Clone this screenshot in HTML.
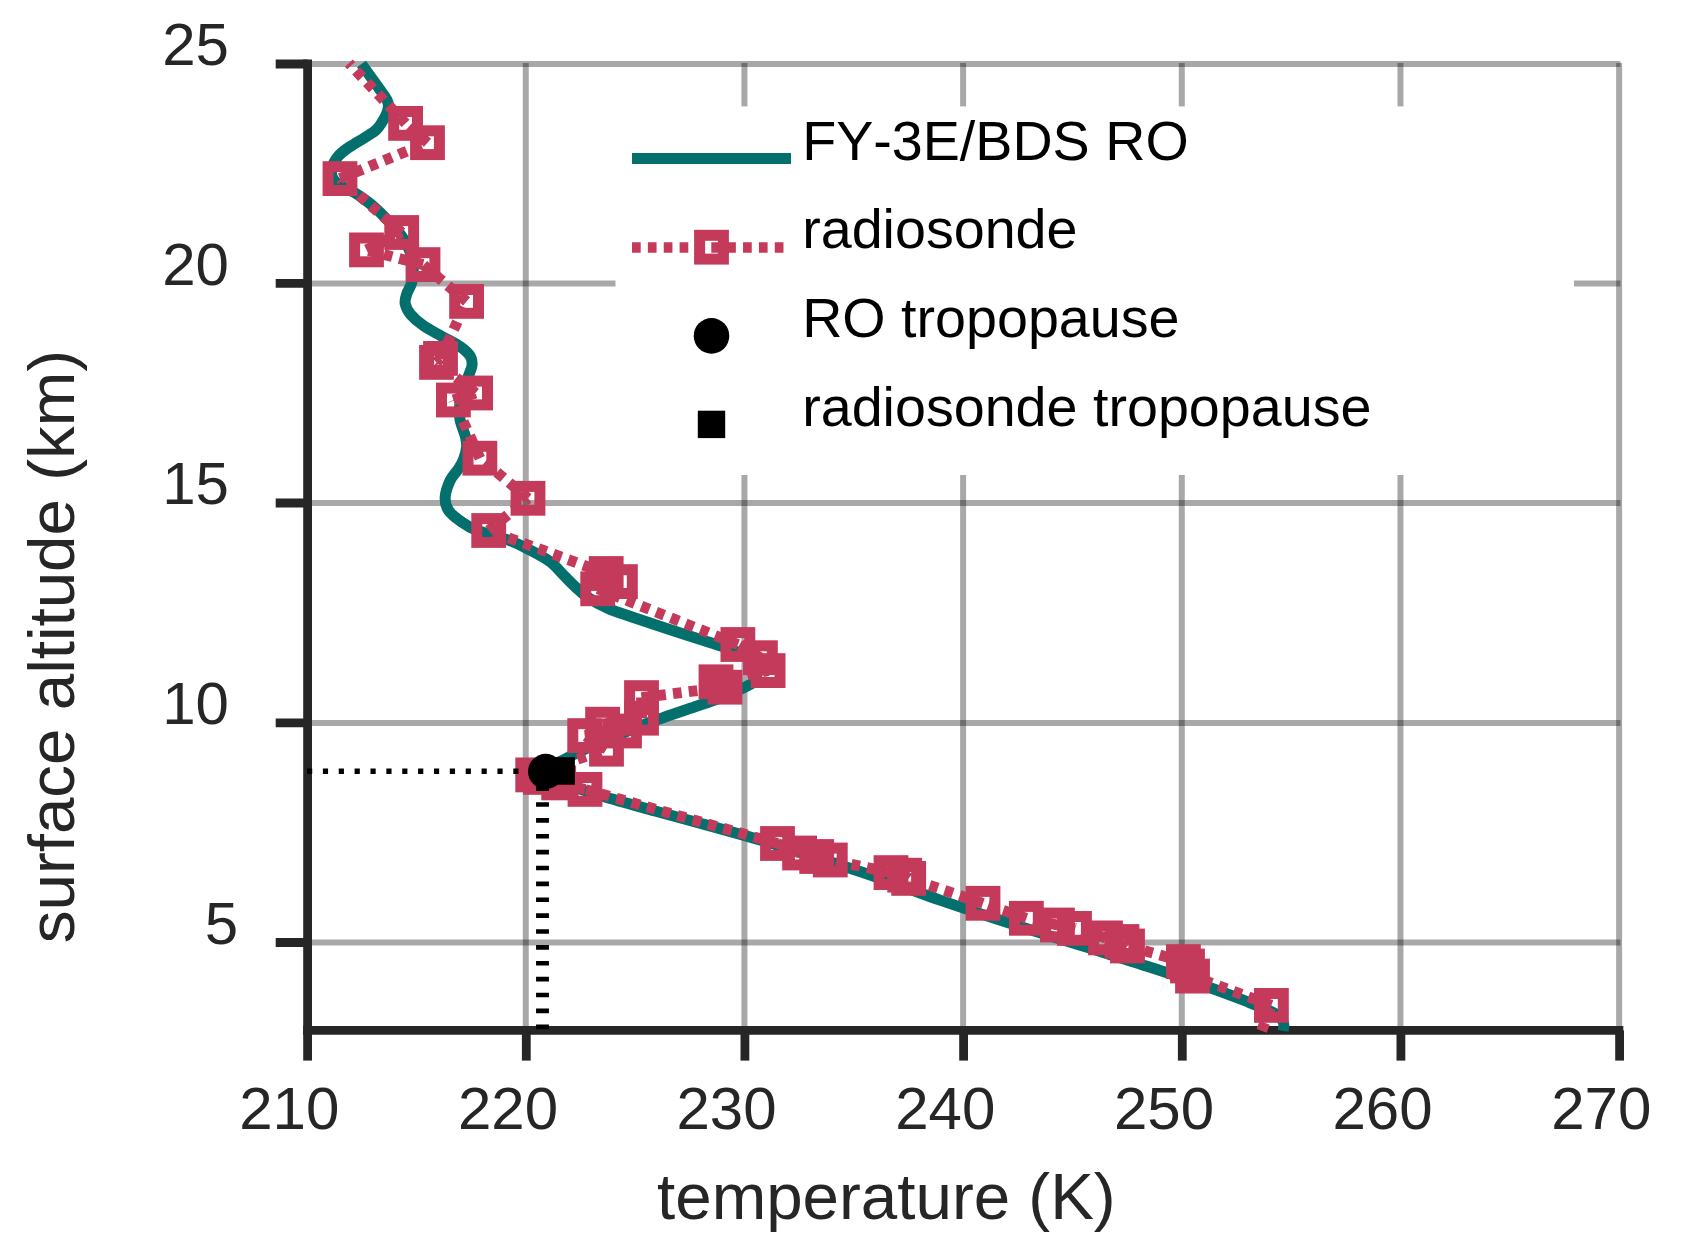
<!DOCTYPE html>
<html lang="en"><head><meta charset="utf-8"><title>temperature profile</title>
<style>html,body{margin:0;padding:0;background:#fff}svg{display:block}text{font-family:"Liberation Sans",Arial,Helvetica,sans-serif;font-kerning:none}.tk{font-size:60px;fill:#262626}.al{font-size:65.5px;fill:#262626}.lg{font-size:55.65px;fill:#000}</style></head><body>
<svg width="1681" height="1257" viewBox="0 0 1681 1257">
<rect width="1681" height="1257" fill="#fff"/>
<g stroke="#000" stroke-opacity="0.34" stroke-width="6" fill="none"><line x1="525.77" y1="63.1" x2="525.77" y2="1030.4"/><line x1="744.44" y1="63.1" x2="744.44" y2="1030.4"/><line x1="963.11" y1="63.1" x2="963.11" y2="1030.4"/><line x1="1181.78" y1="63.1" x2="1181.78" y2="1030.4"/><line x1="1400.45" y1="63.1" x2="1400.45" y2="1030.4"/><line x1="1619.12" y1="63.1" x2="1619.12" y2="1030.4"/><line x1="307.6" y1="64.0" x2="1620.4" y2="64.0"/><line x1="307.6" y1="283.4" x2="1620.4" y2="283.4"/><line x1="307.6" y1="503.0" x2="1620.4" y2="503.0"/><line x1="307.6" y1="722.9" x2="1620.4" y2="722.9"/><line x1="307.6" y1="942.5" x2="1620.4" y2="942.5"/></g>
<rect x="615.5" y="106.4" width="958.5" height="368.6" fill="#fff"/>
<g stroke="#262626" stroke-width="8.8" fill="none"><line x1="307.6" y1="59.6" x2="307.6" y2="1034.8"/><line x1="303.2" y1="1030.4" x2="1623.3" y2="1030.4"/><line x1="275.7" y1="64.0" x2="307.6" y2="64.0"/><line x1="275.7" y1="283.4" x2="307.6" y2="283.4"/><line x1="275.7" y1="503.0" x2="307.6" y2="503.0"/><line x1="275.7" y1="722.9" x2="307.6" y2="722.9"/><line x1="275.7" y1="942.5" x2="307.6" y2="942.5"/><line x1="307.6" y1="1030.4" x2="307.6" y2="1060.6"/><line x1="526.3" y1="1030.4" x2="526.3" y2="1060.6"/><line x1="744.9" y1="1030.4" x2="744.9" y2="1060.6"/><line x1="963.6" y1="1030.4" x2="963.6" y2="1060.6"/><line x1="1182.3" y1="1030.4" x2="1182.3" y2="1060.6"/><line x1="1400.9" y1="1030.4" x2="1400.9" y2="1060.6"/><line x1="1619.6" y1="1030.4" x2="1619.6" y2="1060.6"/></g>
<g>
<path d="M361.5 64.0C363.0 66.1 367.5 72.3 370.5 76.5C373.5 80.7 376.8 85.1 379.5 89.0C382.2 92.9 385.5 96.9 387.0 100.0C388.5 103.1 388.6 104.8 388.3 107.5C388.1 110.2 387.4 112.4 385.5 116.0C383.6 119.6 380.4 125.4 377.0 129.0C373.6 132.6 368.9 134.9 365.0 137.5C361.1 140.1 356.9 142.3 353.7 144.3C350.5 146.3 348.3 147.6 345.8 149.5C343.3 151.4 340.5 153.7 338.6 155.8C336.7 157.9 335.4 160.0 334.2 162.0C333.0 164.0 332.0 166.2 331.5 168.0C331.0 169.8 331.1 171.2 331.3 173.0C331.6 174.8 332.0 176.8 333.0 178.5C334.0 180.2 335.5 181.9 337.5 183.5C339.5 185.1 342.1 186.5 345.0 188.0C347.9 189.5 351.1 190.5 354.6 192.6C358.1 194.7 362.3 197.7 366.0 200.5C369.7 203.3 373.7 206.5 377.0 209.5C380.3 212.5 382.5 214.9 386.0 218.5C389.5 222.1 394.3 226.2 398.0 231.0C401.7 235.8 405.5 241.5 408.0 247.0C410.5 252.5 412.4 258.2 413.0 264.0C413.6 269.8 412.9 277.0 411.9 281.9C410.9 286.8 408.0 290.0 406.9 293.6C405.8 297.2 404.5 300.1 405.2 303.6C405.9 307.1 407.7 310.9 410.8 314.6C413.9 318.3 418.4 322.2 423.6 325.8C428.8 329.4 435.9 332.9 442.0 336.4C448.1 339.9 455.7 343.5 460.4 346.8C465.1 350.1 468.5 353.3 470.4 356.4C472.3 359.5 472.3 362.2 472.0 365.4C471.7 368.6 470.1 371.3 468.7 375.4C467.3 379.5 465.0 385.1 463.5 390.0C462.0 394.9 460.4 400.1 459.8 405.0C459.2 409.9 459.0 414.1 460.0 419.5C461.0 424.9 464.5 432.6 465.6 437.2C466.7 441.8 466.9 443.5 466.6 447.0C466.3 450.5 465.3 454.4 464.0 458.0C462.7 461.6 460.9 465.0 458.6 468.7C456.3 472.4 452.4 475.7 450.2 480.4C448.0 485.1 445.5 492.0 445.2 497.0C444.9 502.0 445.7 506.2 448.5 510.4C451.3 514.6 457.1 518.8 461.9 522.1C466.6 525.5 469.2 527.5 477.0 530.5C484.8 533.5 499.6 536.8 508.5 540.1C517.4 543.4 523.2 546.6 530.2 550.2C537.2 553.8 544.7 557.7 550.3 561.9C555.9 566.1 559.4 571.0 563.6 575.2C567.8 579.4 571.4 583.3 575.3 586.9C579.2 590.5 581.7 593.4 587.0 596.9C592.3 600.4 599.9 604.7 607.1 608.0C614.4 611.3 620.9 613.2 630.5 616.5C640.1 619.8 651.8 623.7 665.0 628.0C678.2 632.3 698.3 638.7 710.0 642.5C721.7 646.3 728.0 648.1 735.0 651.0C742.0 653.9 748.2 657.0 752.0 660.0C755.8 663.0 757.5 665.8 758.0 669.0C758.5 672.2 756.5 676.3 755.0 679.0C753.5 681.7 754.5 682.1 748.7 685.3C742.9 688.5 729.0 694.5 720.4 698.0C711.8 701.5 709.4 701.8 697.2 706.0C685.0 710.2 663.2 717.4 647.0 723.5C630.8 729.6 613.7 736.6 600.0 742.5C586.3 748.4 574.0 754.2 565.0 759.0C556.0 763.8 546.5 767.6 546.0 771.5C545.5 775.4 552.4 778.3 562.0 782.5C571.6 786.7 588.1 791.8 603.6 796.5C619.1 801.2 638.9 806.5 655.0 811.0C671.1 815.5 682.5 818.4 700.0 823.2C717.5 828.0 741.7 834.6 760.0 840.0C778.3 845.4 793.8 850.4 810.0 855.5C826.2 860.6 842.0 865.5 857.0 870.5C872.0 875.5 886.2 880.6 900.0 885.5C913.8 890.4 922.5 894.1 940.0 900.1C957.5 906.1 981.5 914.2 1005.2 921.8C1028.9 929.4 1056.7 937.8 1082.0 945.8C1107.3 953.8 1134.2 961.9 1157.2 969.5C1180.2 977.1 1204.5 985.7 1220.0 991.2C1235.5 996.8 1241.2 999.3 1250.0 1002.8C1258.8 1006.3 1267.5 1009.8 1272.5 1012.2C1277.5 1014.6 1278.2 1015.3 1280.0 1017.0C1281.8 1018.7 1282.8 1020.8 1283.4 1022.5C1284.0 1024.2 1283.8 1025.6 1283.8 1027.0C1283.8 1028.4 1283.2 1030.2 1283.1 1030.9" fill="none" stroke="#03706d" stroke-width="11.0" stroke-linejoin="round"/>
<path d="M1261.6 1030.9L1271.4 1005.4M1271.4 1005.4L1192.5 976.1M1192.5 976.1L1187.5 966.0M1187.5 966.0L1183.4 961.6M1183.4 961.6L1127.5 946.0M1127.5 946.0L1122.0 941.5M1122.0 941.5L1105.5 937.9M1105.5 937.9L1074.5 928.4M1074.5 928.4L1057.4 925.0M1057.4 925.0L1026.4 918.3M1026.4 918.3L983.0 903.3M983.0 903.3L908.7 878.4M908.7 878.4L904.7 875.2M904.7 875.2L891.0 872.6M891.0 872.6L830.3 860.0M830.3 860.0L816.7 856.5M816.7 856.5L799.6 853.0M799.6 853.0L777.5 843.5M777.5 843.5L585.0 789.4M585.0 789.4L558.7 782.9M558.7 782.9L540.4 777.4M540.4 777.4L532.7 774.9M532.7 774.9L606.5 749.2M606.5 749.2L584.7 735.6M584.7 735.6L624.5 731.0M624.5 731.0L602.6 724.2M602.6 724.2L641.5 718.2M641.5 718.2L641.5 697.6M641.5 697.6L725.0 687.2M725.0 687.2L716.0 681.8M716.0 681.8L768.1 670.6M768.1 670.6L760.4 657.7M760.4 657.7L737.9 644.5M737.9 644.5L597.7 588.8M597.7 588.8L620.4 581.6M620.4 581.6L606.2 573.5M606.2 573.5L488.7 530.5M488.7 530.5L528.0 498.3M528.0 498.3L479.9 458.2M479.9 458.2L453.4 400.0M453.4 400.0L475.6 393.0M475.6 393.0L436.5 362.4M436.5 362.4L440.5 358.4M440.5 358.4L466.6 301.4M466.6 301.4L423.0 264.6M423.0 264.6L366.5 249.9M366.5 249.9L401.7 232.5M401.7 232.5L340.0 178.6M340.0 178.6L427.5 142.7M427.5 142.7L405.6 123.4M405.6 123.4L348.8 63.1" fill="none" stroke="#c43a5a" stroke-width="10.8" stroke-dasharray="8.7 7.17"/>
<g fill="none" stroke="#c43a5a" stroke-width="11.0"><rect x="393.7" y="111.5" width="23.8" height="23.8"/><rect x="415.6" y="130.8" width="23.8" height="23.8"/><rect x="328.1" y="166.7" width="23.8" height="23.8"/><rect x="389.8" y="220.6" width="23.8" height="23.8"/><rect x="354.6" y="238.0" width="23.8" height="23.8"/><rect x="411.1" y="252.7" width="23.8" height="23.8"/><rect x="454.7" y="289.5" width="23.8" height="23.8"/><rect x="428.6" y="346.5" width="23.8" height="23.8"/><rect x="424.6" y="350.5" width="23.8" height="23.8"/><rect x="463.7" y="381.1" width="23.8" height="23.8"/><rect x="441.5" y="388.1" width="23.8" height="23.8"/><rect x="468.0" y="446.3" width="23.8" height="23.8"/><rect x="516.1" y="486.4" width="23.8" height="23.8"/><rect x="476.8" y="518.6" width="23.8" height="23.8"/><rect x="594.3" y="561.6" width="23.8" height="23.8"/><rect x="608.5" y="569.7" width="23.8" height="23.8"/><rect x="585.8" y="576.9" width="23.8" height="23.8"/><rect x="726.0" y="632.6" width="23.8" height="23.8"/><rect x="748.5" y="645.8" width="23.8" height="23.8"/><rect x="756.2" y="658.7" width="23.8" height="23.8"/><rect x="704.1" y="669.9" width="23.8" height="23.8"/><rect x="713.1" y="675.3" width="23.8" height="23.8"/><rect x="629.6" y="685.7" width="23.8" height="23.8"/><rect x="629.6" y="706.3" width="23.8" height="23.8"/><rect x="590.7" y="712.3" width="23.8" height="23.8"/><rect x="612.6" y="719.1" width="23.8" height="23.8"/><rect x="572.8" y="723.7" width="23.8" height="23.8"/><rect x="594.6" y="737.3" width="23.8" height="23.8"/><rect x="520.8" y="763.0" width="23.8" height="23.8"/><rect x="528.5" y="765.5" width="23.8" height="23.8"/><rect x="546.8" y="771.0" width="23.8" height="23.8"/><rect x="573.1" y="777.5" width="23.8" height="23.8"/><rect x="765.6" y="831.6" width="23.8" height="23.8"/><rect x="787.7" y="841.1" width="23.8" height="23.8"/><rect x="804.8" y="844.6" width="23.8" height="23.8"/><rect x="818.4" y="848.1" width="23.8" height="23.8"/><rect x="879.1" y="860.7" width="23.8" height="23.8"/><rect x="892.8" y="863.3" width="23.8" height="23.8"/><rect x="896.8" y="866.5" width="23.8" height="23.8"/><rect x="971.1" y="891.4" width="23.8" height="23.8"/><rect x="1014.5" y="906.4" width="23.8" height="23.8"/><rect x="1045.5" y="913.1" width="23.8" height="23.8"/><rect x="1062.6" y="916.5" width="23.8" height="23.8"/><rect x="1093.6" y="926.0" width="23.8" height="23.8"/><rect x="1110.1" y="929.6" width="23.8" height="23.8"/><rect x="1115.6" y="934.1" width="23.8" height="23.8"/><rect x="1171.5" y="949.7" width="23.8" height="23.8"/><rect x="1175.6" y="954.1" width="23.8" height="23.8"/><rect x="1180.6" y="964.2" width="23.8" height="23.8"/><rect x="1259.5" y="993.5" width="23.8" height="23.8"/></g>
<rect x="551.5" y="775.7" width="14.4" height="14.4" fill="#c43a5a"/>
</g>
<line x1="307" y1="771.2" x2="546" y2="771.2" stroke="#000" stroke-width="5.6" stroke-dasharray="5.2 10.67"/>
<line x1="542.5" y1="770.4" x2="542.5" y2="1030" stroke="#000" stroke-width="12.9" stroke-dasharray="4.65 11.23"/>
<circle cx="545.7" cy="771.5" r="17.7" fill="#000"/>
<rect x="547.4" y="757.2" width="27.5" height="27.5" fill="#000"/>
<line x1="632" y1="158.5" x2="791" y2="158.5" stroke="#03706d" stroke-width="11"/>
<path d="M632 247.5L711.3 247.5M711.3 247.5L790.5 247.5" stroke="#c43a5a" stroke-width="10.7" stroke-dasharray="8.7 7.17" fill="none"/>
<rect x="699.6" y="235.3" width="23.8" height="23.8" fill="none" stroke="#c43a5a" stroke-width="11.0"/>
<circle cx="711.5" cy="335.9" r="17.8" fill="#000"/>
<rect x="697.8" y="410.7" width="27.4" height="27.4" fill="#000"/>
<text class="lg" x="802.2" y="159.6">FY-3E/BDS RO</text>
<text class="lg" x="802.2" y="248.4">radiosonde</text>
<text class="lg" x="802.2" y="337.3">RO tropopause</text>
<text class="lg" x="802.2" y="426.1">radiosonde tropopause</text>
<text class="tk" x="239.2" y="1129.3">210</text>
<text class="tk" x="457.9" y="1129.3">220</text>
<text class="tk" x="676.5" y="1129.3">230</text>
<text class="tk" x="895.2" y="1129.3">240</text>
<text class="tk" x="1113.9" y="1129.3">250</text>
<text class="tk" x="1332.5" y="1129.3">260</text>
<text class="tk" x="1551.2" y="1129.3">270</text>
<text class="tk" x="229" y="65.2" text-anchor="end">25</text>
<text class="tk" x="229" y="284.6" text-anchor="end">20</text>
<text class="tk" x="229" y="504.2" text-anchor="end">15</text>
<text class="tk" x="229" y="724.1" text-anchor="end">10</text>
<text class="tk" x="238" y="943.7" text-anchor="end">5</text>
<text class="al" x="657" y="1219.3">temperature (K)</text>
<text class="al" transform="translate(73.5 646.6) rotate(-90)" text-anchor="middle">surface altitude (km)</text>
</svg></body></html>
